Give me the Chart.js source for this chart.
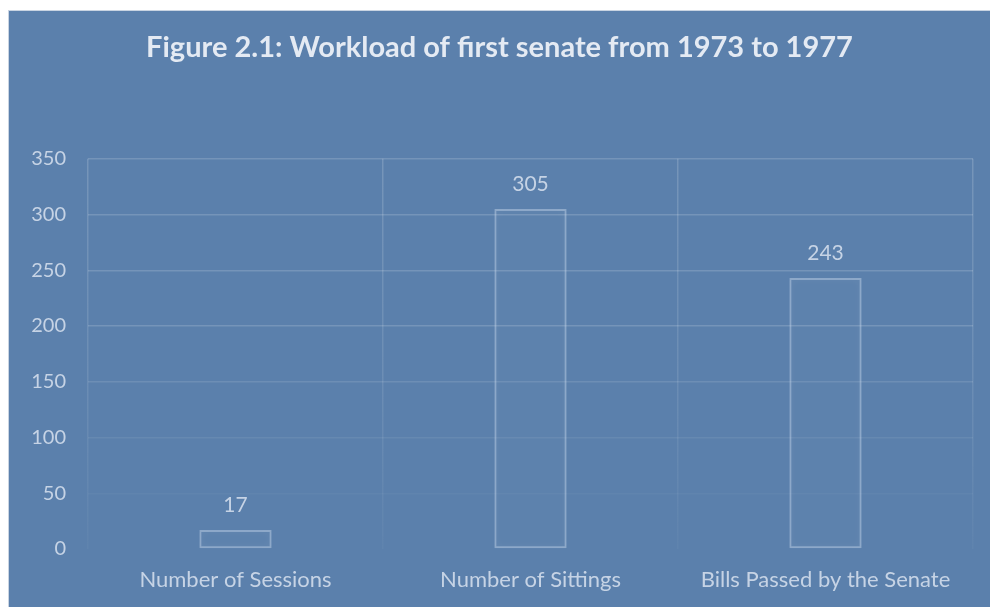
<!DOCTYPE html>
<html>
<head>
<meta charset="utf-8">
<script src="https://cdn.jsdelivr.net/npm/chart.js@4.4.1/dist/chart.umd.min.js"></script>
<style>
  html, body { margin: 0; padding: 0; background: #ffffff; width: 990px; height: 607px; overflow: hidden; }
  #frame {
    position: absolute; left: 8px; top: 10px; width: 982px; height: 597px;
    background: #5b80ac; border-top: 1px solid #c9d4e2; border-left: 1px solid #c9d4e2;
  }
  #chart { display: block; }
</style>
</head>
<body>
<div id="frame"><canvas id="chart" width="981" height="596"></canvas></div>
<script>
const categories = ["Number of Sessions", "Number of Sittings", "Bills Passed by the Senate"];
const workload = [17, 305, 243];
const yTicks = [0, 50, 100, 150, 200, 250, 300, 350];

const FONT = "Lato, 'Open Sans', sans-serif";
const TEXT = "#c6d3e5";

// gridlines soften toward the bottom of the plot
function hGridColor(ctx) {
  const v = ctx.tick ? ctx.tick.value : 0;
  if (v <= 0) return "rgba(255,255,255,0)";
  if (v <= 50) return "rgba(255,255,255,0.035)";
  if (v <= 100) return "rgba(255,255,255,0.07)";
  if (v <= 150) return "rgba(255,255,255,0.11)";
  return "rgba(255,255,255,0.16)";
}
function vGridColor(ctx) {
  const chart = ctx.chart;
  const area = chart.chartArea;
  if (!area) return "rgba(255,255,255,0.15)";
  const g = chart.ctx.createLinearGradient(0, area.top, 0, area.bottom);
  g.addColorStop(0, "rgba(255,255,255,0.17)");
  g.addColorStop(0.55, "rgba(255,255,255,0.11)");
  g.addColorStop(1, "rgba(255,255,255,0.03)");
  return g;
}

// value label above each bar
const valueLabels = {
  id: "valueLabels",
  afterDatasetsDraw(chart) {
    const c = chart.ctx;
    const meta = chart.getDatasetMeta(0);
    c.save();
    c.font = "21px " + FONT;
    c.fillStyle = TEXT;
    c.textAlign = "center";
    c.textBaseline = "middle";
    meta.data.forEach((bar, i) => {
      c.fillText(String(workload[i]), bar.x, bar.y - 25);
    });
    c.restore();
  }
};

// soft glow round the bar outlines
const barGlow = {
  id: "barGlow",
  beforeDatasetDraw(chart) {
    chart.ctx.save();
    chart.ctx.shadowColor = "rgba(255,255,255,0.22)";
    chart.ctx.shadowBlur = 6;
  },
  afterDatasetDraw(chart) {
    chart.ctx.restore();
  }
};

new Chart(document.getElementById("chart"), {
  type: "bar",
  data: {
    labels: categories,
    datasets: [{
      data: workload,
      backgroundColor: "rgba(255,255,255,0.015)",
      borderColor: "rgba(200,215,235,0.45)",
      borderWidth: 2,
      borderSkipped: false,
      barPercentage: 0.245,
      categoryPercentage: 1.0
    }]
  },
  options: {
    responsive: false,
    animation: false,
    layout: { padding: { left: 17, right: 17, top: 0, bottom: 0 } },
    plugins: {
      legend: { display: false },
      tooltip: { enabled: false },
      title: {
        display: true,
        text: "Figure 2.1: Workload of first senate from 1973 to 1977",
        color: "#e4eaf3",
        font: { family: FONT, size: 29, weight: "bold" },
        padding: { top: 19, bottom: 94 }
      }
    },
    scales: {
      x: {
        offset: true,
        grid: { offset: true, drawTicks: false, color: vGridColor, lineWidth: 1.5 },
        border: { display: false },
        ticks: { color: TEXT, font: { family: FONT, size: 22 }, padding: 18, maxRotation: 0 },
        afterFit(scale) { scale.height = 58; }
      },
      y: {
        min: 0,
        max: 350,
        afterBuildTicks(scale) { scale.ticks = yTicks.map(v => ({ value: v })); },
        grid: { drawTicks: false, color: hGridColor, lineWidth: 1.5 },
        border: { display: false },
        ticks: { color: TEXT, font: { family: FONT, size: 20 }, padding: 22 },
        afterFit(scale) { scale.width = 62; }
      }
    }
  },
  plugins: [barGlow, valueLabels]
});
</script>
</body>
</html>
